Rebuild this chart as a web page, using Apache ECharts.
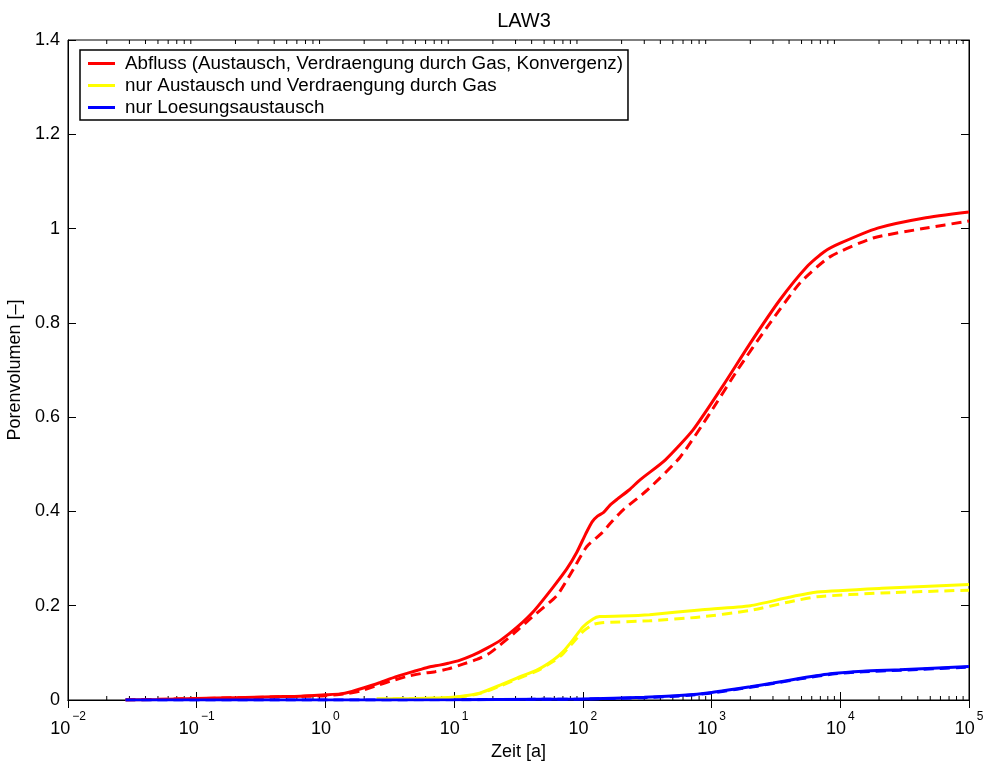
<!DOCTYPE html>
<html>
<head>
<meta charset="utf-8">
<script src="https://cdn.jsdelivr.net/npm/echarts@6/dist/echarts.min.js"></script>
<style>html,body{margin:0;padding:0;background:#fff}#c{width:986px;height:765px}</style>
</head>
<body>
<div id="c"></div>
<script>
const FONT = "'Liberation Sans', Arial, Helvetica, sans-serif";
const TITLE = "LAW3";
const X_NAME = "Zeit [a]";
const Y_NAME = "Porenvolumen [–]";
const LEGEND_NAMES = [
  "Abfluss (Austausch, Verdraengung durch Gas, Konvergenz)",
  "nur Austausch und Verdraengung durch Gas",
  "nur Loesungsaustausch"
];
const Y_TICKS = [0, 0.2, 0.4, 0.6, 0.8, 1, 1.2, 1.4];
const MINOR_X_TICKS = [];
for (let e = -2; e < 5; e++) for (let m = 2; m <= 9; m++) MINOR_X_TICKS.push(+(m * Math.pow(10, e)).toPrecision(3));

// Red solid: Abfluss
const redSolid = [
  [0.028,0],[0.05,0.001],[0.1,0.003],[0.2,0.005],[0.4,0.007],[0.64,0.008],[1,0.011],[1.3,0.013],[1.55,0.017],[2,0.026],[2.6,0.036],
  [3.5,0.049],[4.5,0.058],[5.5,0.065],[6.4,0.07],[7.7,0.074],[9,0.078],[11,0.084],[14,0.095],[18,0.11],[23,0.127],
  [31,0.155],[42,0.19],[59,0.24],[75,0.278],[90,0.314],[105,0.352],[118,0.378],[130,0.39],[145,0.398],[162,0.413],
  [185,0.426],[230,0.446],[278,0.467],[436,0.509],[718,0.573],[1236,0.668],[2000,0.757],[3400,0.849],[5500,0.919],
  [7500,0.951],[10000,0.969],[19500,1.001],[44000,1.022],[100000,1.035]
];
// Red dashed
const redDashed = [
  [0.028,0],[0.1,0.003],[0.5,0.007],[1,0.009],[1.5,0.014],[1.85,0.019],[2.6,0.032],[3.3,0.041],[4.3,0.05],[5.5,0.056],[7.1,0.06],
  [9,0.066],[11.7,0.076],[15,0.086],[19,0.1],[29,0.141],[40,0.175],[63,0.222],[85,0.279],[107,0.325],[140,0.354],
  [170,0.38],[205,0.403],[316,0.445],[569,0.515],[975,0.609],[1590,0.7],[2700,0.791],[4880,0.885],[8300,0.94],
  [18000,0.98],[44000,1.0],[100000,1.016]
];
// Yellow solid: nur Austausch und Verdraengung
const yellowSolid = [
  [2.5,0.002],[5,0.003],[9.7,0.006],[13,0.01],[16,0.015],[23,0.032],[31,0.047],[45,0.065],[59,0.085],[70,0.102],[84,0.128],
  [100,0.155],[120,0.172],[135,0.177],[200,0.178],[330,0.181],[810,0.191],[2000,0.2],[4000,0.218],[6600,0.229],
  [21000,0.237],[100000,0.245]
];
// Yellow dashed
const yellowDashed = [
  [2.5,0.002],[5,0.003],[9.7,0.005],[13,0.009],[16,0.014],[23,0.03],[31,0.045],[45,0.063],[59,0.082],[70,0.098],[84,0.122],
  [100,0.145],[120,0.16],[140,0.164],[330,0.168],[810,0.176],[2000,0.19],[4000,0.208],[6600,0.219],
  [21000,0.227],[100000,0.233]
];
// Blue solid: nur Loesungsaustausch
const blueSolid = [
  [0.028,0],[1,0],[10,0.0005],[50,0.0015],[100,0.002],[300,0.006],[600,0.01],[1000,0.016],[2000,0.028],[3000,0.036],
  [4900,0.046],[8700,0.056],[15000,0.061],[29000,0.064],[100000,0.071]
];
// Blue dashed (nearly coincident)
const blueDashed = [
  [0.028,0],[1,0],[10,0.0005],[50,0.0015],[100,0.002],[300,0.005],[600,0.009],[1000,0.015],[2000,0.027],[3000,0.035],
  [4900,0.045],[8700,0.055],[15000,0.06],[29000,0.063],[100000,0.07]
];

const RED = '#ff0000', YELLOW = '#ffff00', BLUE = '#0000ff';

function supLabel(v) {
  const e = Math.round(Math.log10(v));
  return '{b|10}{e|' + (e < 0 ? '−' + (-e) : e) + '}';
}

function lineSeries(name, data, color, dashed) {
  return {
    name: name, type: 'line', data: data, showSymbol: false, symbol: 'none',
    smooth: 0.2, silent: true, animation: false, z: dashed ? 3 : 4,
    lineStyle: { color: color, width: 3, type: dashed ? [10, 6] : 'solid' },
    itemStyle: { color: color }
  };
}

const tickSeries = {
  type: 'custom', coordinateSystem: 'cartesian2d', silent: true, animation: false, clip: false, z: 1,
  data: MINOR_X_TICKS.map(v => [v, 0]),
  renderItem: function (params, api) {
    const v = api.value(0);
    const b = api.coord([v, 0]);
    const t = api.coord([v, 1.4]);
    return {
      type: 'group', children: [
        { type: 'line', shape: { x1: b[0], y1: b[1], x2: b[0], y2: b[1] - 4 }, style: { stroke: '#000', lineWidth: 1 } },
        { type: 'line', shape: { x1: t[0], y1: t[1], x2: t[0], y2: t[1] + 4 }, style: { stroke: '#000', lineWidth: 1 } }
      ]
    };
  }
};

const chart = echarts.init(document.getElementById('c'), null, { renderer: 'canvas' });
chart.setOption({
  backgroundColor: '#fff',
  animation: false,
  textStyle: { fontFamily: FONT },
  title: {
    text: TITLE, left: 519, top: 6, textAlign: 'center',
    textStyle: { fontFamily: FONT, fontSize: 20, fontWeight: 'normal', color: '#000' }
  },
  grid: { left: 68, right: 17, top: 40, bottom: 65, show: true, borderColor: '#000', borderWidth: 1,
          containLabel: false, outerBoundsMode: 'none' },
  legend: {
    data: LEGEND_NAMES, orient: 'vertical', left: 80, top: 50,
    backgroundColor: '#fff', borderColor: '#000', borderWidth: 1.5,
    padding: [4, 5, 3, 8], itemGap: 3, itemWidth: 27, itemHeight: 3, icon: 'rect',
    textStyle: { fontFamily: FONT, fontSize: 18.8, color: '#000', padding: [0, 0, 0, 5] }
  },
  xAxis: [{
    type: 'log', min: 0.01, max: 100000, logBase: 10, splitNumber: 7,
    name: X_NAME, nameLocation: 'middle', nameGap: 39,
    nameTextStyle: { fontFamily: FONT, fontSize: 18, color: '#000' },
    axisLine: { lineStyle: { color: '#000', width: 1 } },
    axisTick: { inside: true, length: 8, lineStyle: { color: '#000' } },
    splitLine: { show: false }, minorTick: { show: false },
    axisLabel: {
      margin: 11, color: '#000', formatter: supLabel,
      rich: {
        b: { fontFamily: FONT, fontSize: 18, color: '#000', padding: [9, 0, 0, 0] },
        e: { fontFamily: FONT, fontSize: 12, color: '#000', verticalAlign: 'top', padding: [0, 0, 0, 2] }
      }
    }
  }, {
    type: 'log', min: 0.01, max: 100000, logBase: 10, splitNumber: 7, position: 'top',
    axisLine: { lineStyle: { color: '#000' } },
    axisTick: { inside: true, length: 8, lineStyle: { color: '#000' } },
    axisLabel: { show: false }, splitLine: { show: false }
  }],
  yAxis: [{
    type: 'value', min: 0, max: 1.4, interval: 0.2,
    name: Y_NAME, nameLocation: 'middle', nameGap: 40,
    nameTextStyle: { fontFamily: FONT, fontSize: 18, color: '#000' },
    axisLine: { show: true, lineStyle: { color: '#000' } },
    axisTick: { show: true, inside: true, length: 8, lineStyle: { color: '#000' } },
    splitLine: { show: false },
    axisLabel: { margin: 8, color: '#000', fontFamily: FONT, fontSize: 18 }
  }, {
    type: 'value', min: 0, max: 1.4, interval: 0.2, position: 'right',
    axisLine: { show: true, lineStyle: { color: '#000' } },
    axisTick: { show: true, inside: true, length: 8, lineStyle: { color: '#000' } },
    splitLine: { show: false }, axisLabel: { show: false }
  }],
  series: [
    lineSeries(LEGEND_NAMES[0], redSolid, RED, false),
    lineSeries(LEGEND_NAMES[1], yellowSolid, YELLOW, false),
    lineSeries(LEGEND_NAMES[2], blueSolid, BLUE, false),
    lineSeries('Abfluss (gestrichelt)', redDashed, RED, true),
    lineSeries('Austausch/Gas (gestrichelt)', yellowDashed, YELLOW, true),
    lineSeries('Loesungsaustausch (gestrichelt)', blueDashed, BLUE, true),
    tickSeries
  ]
});
</script>
</body>
</html>
